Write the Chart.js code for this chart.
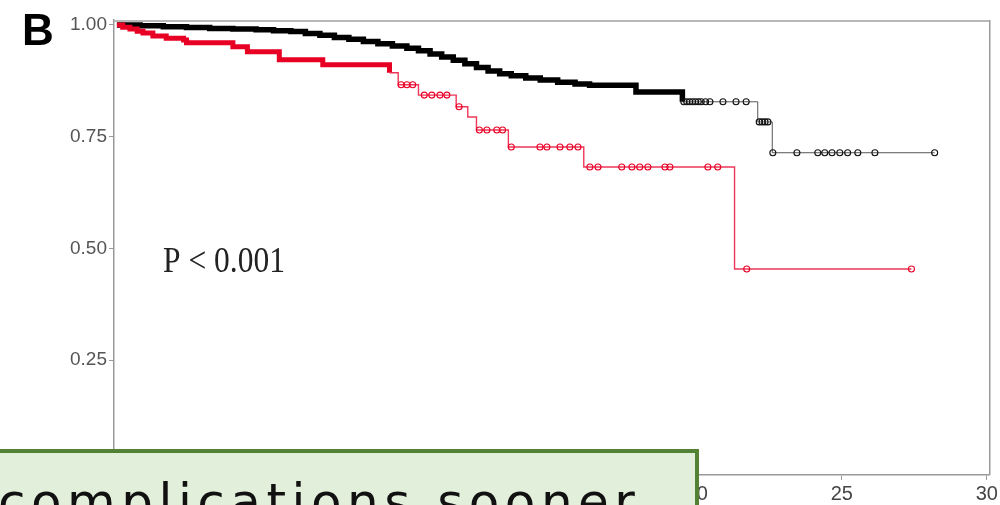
<!DOCTYPE html>
<html>
<head>
<meta charset="utf-8">
<script src="https://cdn.jsdelivr.net/npm/chart.js@4.4.1/dist/chart.umd.min.js"></script>
<style>
  html, body { margin: 0; padding: 0; background: #fff; overflow: hidden; }
  #wrap { position: relative; width: 1000px; height: 505px; overflow: hidden; }
  #km { position: absolute; left: 0; top: 0; }
  .callout {
    position: absolute; left: -12px; top: 449px; width: 711px; height: 90px;
    box-sizing: border-box; background: #e2efda; border: 4px solid #548235;
  }
  .callout span {
    position: absolute; left: 6px; top: 20px; white-space: nowrap;
    font: 50px "DejaVu Sans", sans-serif; letter-spacing: 5.5px; color: #111;
  }
</style>
</head>
<body>
<div id="wrap">
  <canvas id="km" width="1000" height="505"></canvas>
  <div class="callout"><span>complications sooner</span></div>
</div>
<script>
// Kaplan-Meier step curves: event times (years) and survival after each step
const blackTimes = [0, 0.8, 1.6, 2.4, 3.2, 4.0, 4.8, 5.4, 6.0, 6.5, 7.0, 7.5, 8.0, 8.5, 9.0, 9.5, 10.0, 10.4, 10.8, 11.2, 11.6, 12.0, 12.4, 12.8, 13.2, 13.6, 14.1, 14.6, 15.2, 15.8, 16.3, 17.9, 19.5, 22.1, 22.6, 28.2];
const blackSurv  = [1.0, 0.998, 0.996, 0.994, 0.992, 0.991, 0.989, 0.987, 0.985, 0.981, 0.977, 0.972, 0.968, 0.963, 0.958, 0.953, 0.948, 0.942, 0.935, 0.928, 0.921, 0.913, 0.905, 0.897, 0.891, 0.886, 0.881, 0.877, 0.872, 0.868, 0.865, 0.850, 0.828, 0.783, 0.714, 0.714];

const redTimes = [0, 0.2, 0.45, 0.7, 0.9, 1.24, 1.7, 2.3, 2.4, 4.0, 4.5, 5.6, 7.1, 9.4, 9.7, 10.4, 11.7, 12.1, 12.4, 13.5, 16.1, 21.3, 27.4];
const redSurv  = [1.0, 0.995, 0.991, 0.986, 0.982, 0.975, 0.970, 0.966, 0.960, 0.951, 0.940, 0.922, 0.911, 0.893, 0.866, 0.843, 0.817, 0.794, 0.765, 0.727, 0.682, 0.454, 0.454];

// Censoring times (open circles) on the sparse stretches of each curve
const blackCensored = [19.55, 19.65, 19.75, 19.85, 19.95, 20.05, 20.15, 20.3, 20.45, 20.9, 21.35, 21.7,
                       22.15, 22.25, 22.35, 22.45,
                       22.62, 23.45, 24.17, 24.41, 24.66, 24.93, 25.2, 25.55, 26.14, 28.2];
const redCensored = [9.8, 10.0, 10.2, 10.6, 10.86, 11.14, 11.38, 11.8, 12.5, 12.76, 13.1, 13.3,
                     13.6, 14.59, 14.83, 15.28, 15.62, 15.9,
                     16.31, 16.59, 17.41, 17.76, 18.03, 18.31, 18.9, 19.07, 20.38, 20.72,
                     21.72, 27.4];

// Axis ticks
const xTickValues = [0, 5, 10, 15, 20, 25, 30];
const yTickValues = [0, 0.25, 0.5, 0.75, 1.0];

// Heavily censored early stretches render as a thick band
const blackDenseUntil = 19.5;
const redDenseUntil = 9.4;

const BLACK = '#000000';
const BLACK_THIN = '#555555';
const RED = 'rgb(232,0,36)';
const RED_THIN = 'rgb(238,55,88)';

function stepPoints(times, surv) {
  return times.map((t, i) => ({ x: t, y: surv[i] }));
}
function survivalAt(times, surv, t) {
  let s = surv[0];
  for (let i = 0; i < times.length; i++) { if (times[i] <= t) s = surv[i]; }
  return s;
}
function censorPoints(ct, times, surv) {
  return ct.map(t => ({ x: t, y: survivalAt(times, surv, t) }));
}

const frame = {
  id: 'frame',
  afterDraw(chart) {
    const { ctx, chartArea: a } = chart;
    ctx.save();
    // top and right border of the plotting box
    ctx.strokeStyle = '#b8b8b8';
    ctx.lineWidth = 2;
    ctx.beginPath();
    ctx.moveTo(a.left, a.top + 1); ctx.lineTo(a.right, a.top + 1);
    ctx.stroke();
    ctx.strokeStyle = '#9a9a9a';
    ctx.lineWidth = 1.5;
    ctx.beginPath();
    ctx.moveTo(a.right, a.top); ctx.lineTo(a.right, a.bottom);
    ctx.stroke();

    // panel letter
    ctx.fillStyle = '#000';
    ctx.font = 'bold 44px "Liberation Sans", Arial, sans-serif';
    ctx.textBaseline = 'alphabetic';
    ctx.fillText('B', 22, 45);

    // log-rank p-value
    ctx.translate(163, 272);
    ctx.scale(1, 1.15);
    ctx.font = '31.5px "Liberation Serif", "Times New Roman", serif';
    ctx.fillStyle = '#222';
    ctx.fillText('P < 0.001', 0, 0);
    ctx.restore();
  }
};

new Chart(document.getElementById('km'), {
  type: 'line',
  data: {
    datasets: [
      {
        data: stepPoints(blackTimes, blackSurv),
        stepped: 'before',
        borderColor: BLACK,
        borderWidth: 1.2,
        pointRadius: 0,
        segment: {
          borderWidth: c => c.p0.parsed.x < blackDenseUntil ? 5.5 : 1,
          borderColor: c => c.p0.parsed.x < blackDenseUntil ? BLACK : BLACK_THIN
        },
        order: 2
      },
      {
        data: stepPoints(redTimes, redSurv),
        stepped: 'before',
        borderColor: RED,
        borderWidth: 1.4,
        pointRadius: 0,
        segment: {
          borderWidth: c => c.p0.parsed.x < redDenseUntil ? 5 : 1.4,
          borderColor: c => c.p0.parsed.x < redDenseUntil ? RED : RED_THIN
        },
        order: 1
      },
      {
        type: 'scatter',
        data: censorPoints(blackCensored, blackTimes, blackSurv),
        pointStyle: 'circle',
        pointRadius: 3,
        pointBorderWidth: 1.1,
        pointBorderColor: '#111',
        pointBackgroundColor: 'rgba(255,255,255,0)',
        showLine: false
      },
      {
        type: 'scatter',
        data: censorPoints(redCensored, redTimes, redSurv),
        pointStyle: 'circle',
        pointRadius: 3,
        pointBorderWidth: 1.1,
        pointBorderColor: RED,
        pointBackgroundColor: 'rgba(255,255,255,0)',
        showLine: false
      }
    ]
  },
  options: {
    responsive: false,
    animation: false,
    events: [],
    layout: { padding: { left: 0, top: 20, right: 10, bottom: 0 } },
    plugins: { legend: { display: false }, tooltip: { enabled: false } },
    scales: {
      x: {
        type: 'linear',
        min: -0.1,
        max: 30.1,
        afterBuildTicks: s => { s.ticks = xTickValues.map(v => ({ value: v })); },
        afterFit: s => { s.height = 30; },
        ticks: {
          color: '#444',
          font: { family: '"Liberation Sans", Arial, sans-serif', size: 20 },
          padding: 2,
          maxRotation: 0,
          callback: v => String(v)
        },
        grid: { display: true, drawOnChartArea: false, drawTicks: true, tickLength: 5, color: '#999' },
        border: { display: true, color: '#999', width: 1.5 }
      },
      y: {
        type: 'linear',
        min: -0.007,
        max: 1.011,
        afterBuildTicks: s => { s.ticks = yTickValues.map(v => ({ value: v })); },
        afterFit: s => { s.width = 114; },
        ticks: {
          color: '#555',
          font: { family: '"Liberation Sans", Arial, sans-serif', size: 19 },
          padding: 2,
          callback: v => Number(v).toFixed(2)
        },
        grid: { display: true, drawOnChartArea: false, drawTicks: true, tickLength: 5, color: '#999' },
        border: { display: true, color: '#999', width: 1.5 }
      }
    }
  },
  plugins: [frame]
});
</script>
</body>
</html>
